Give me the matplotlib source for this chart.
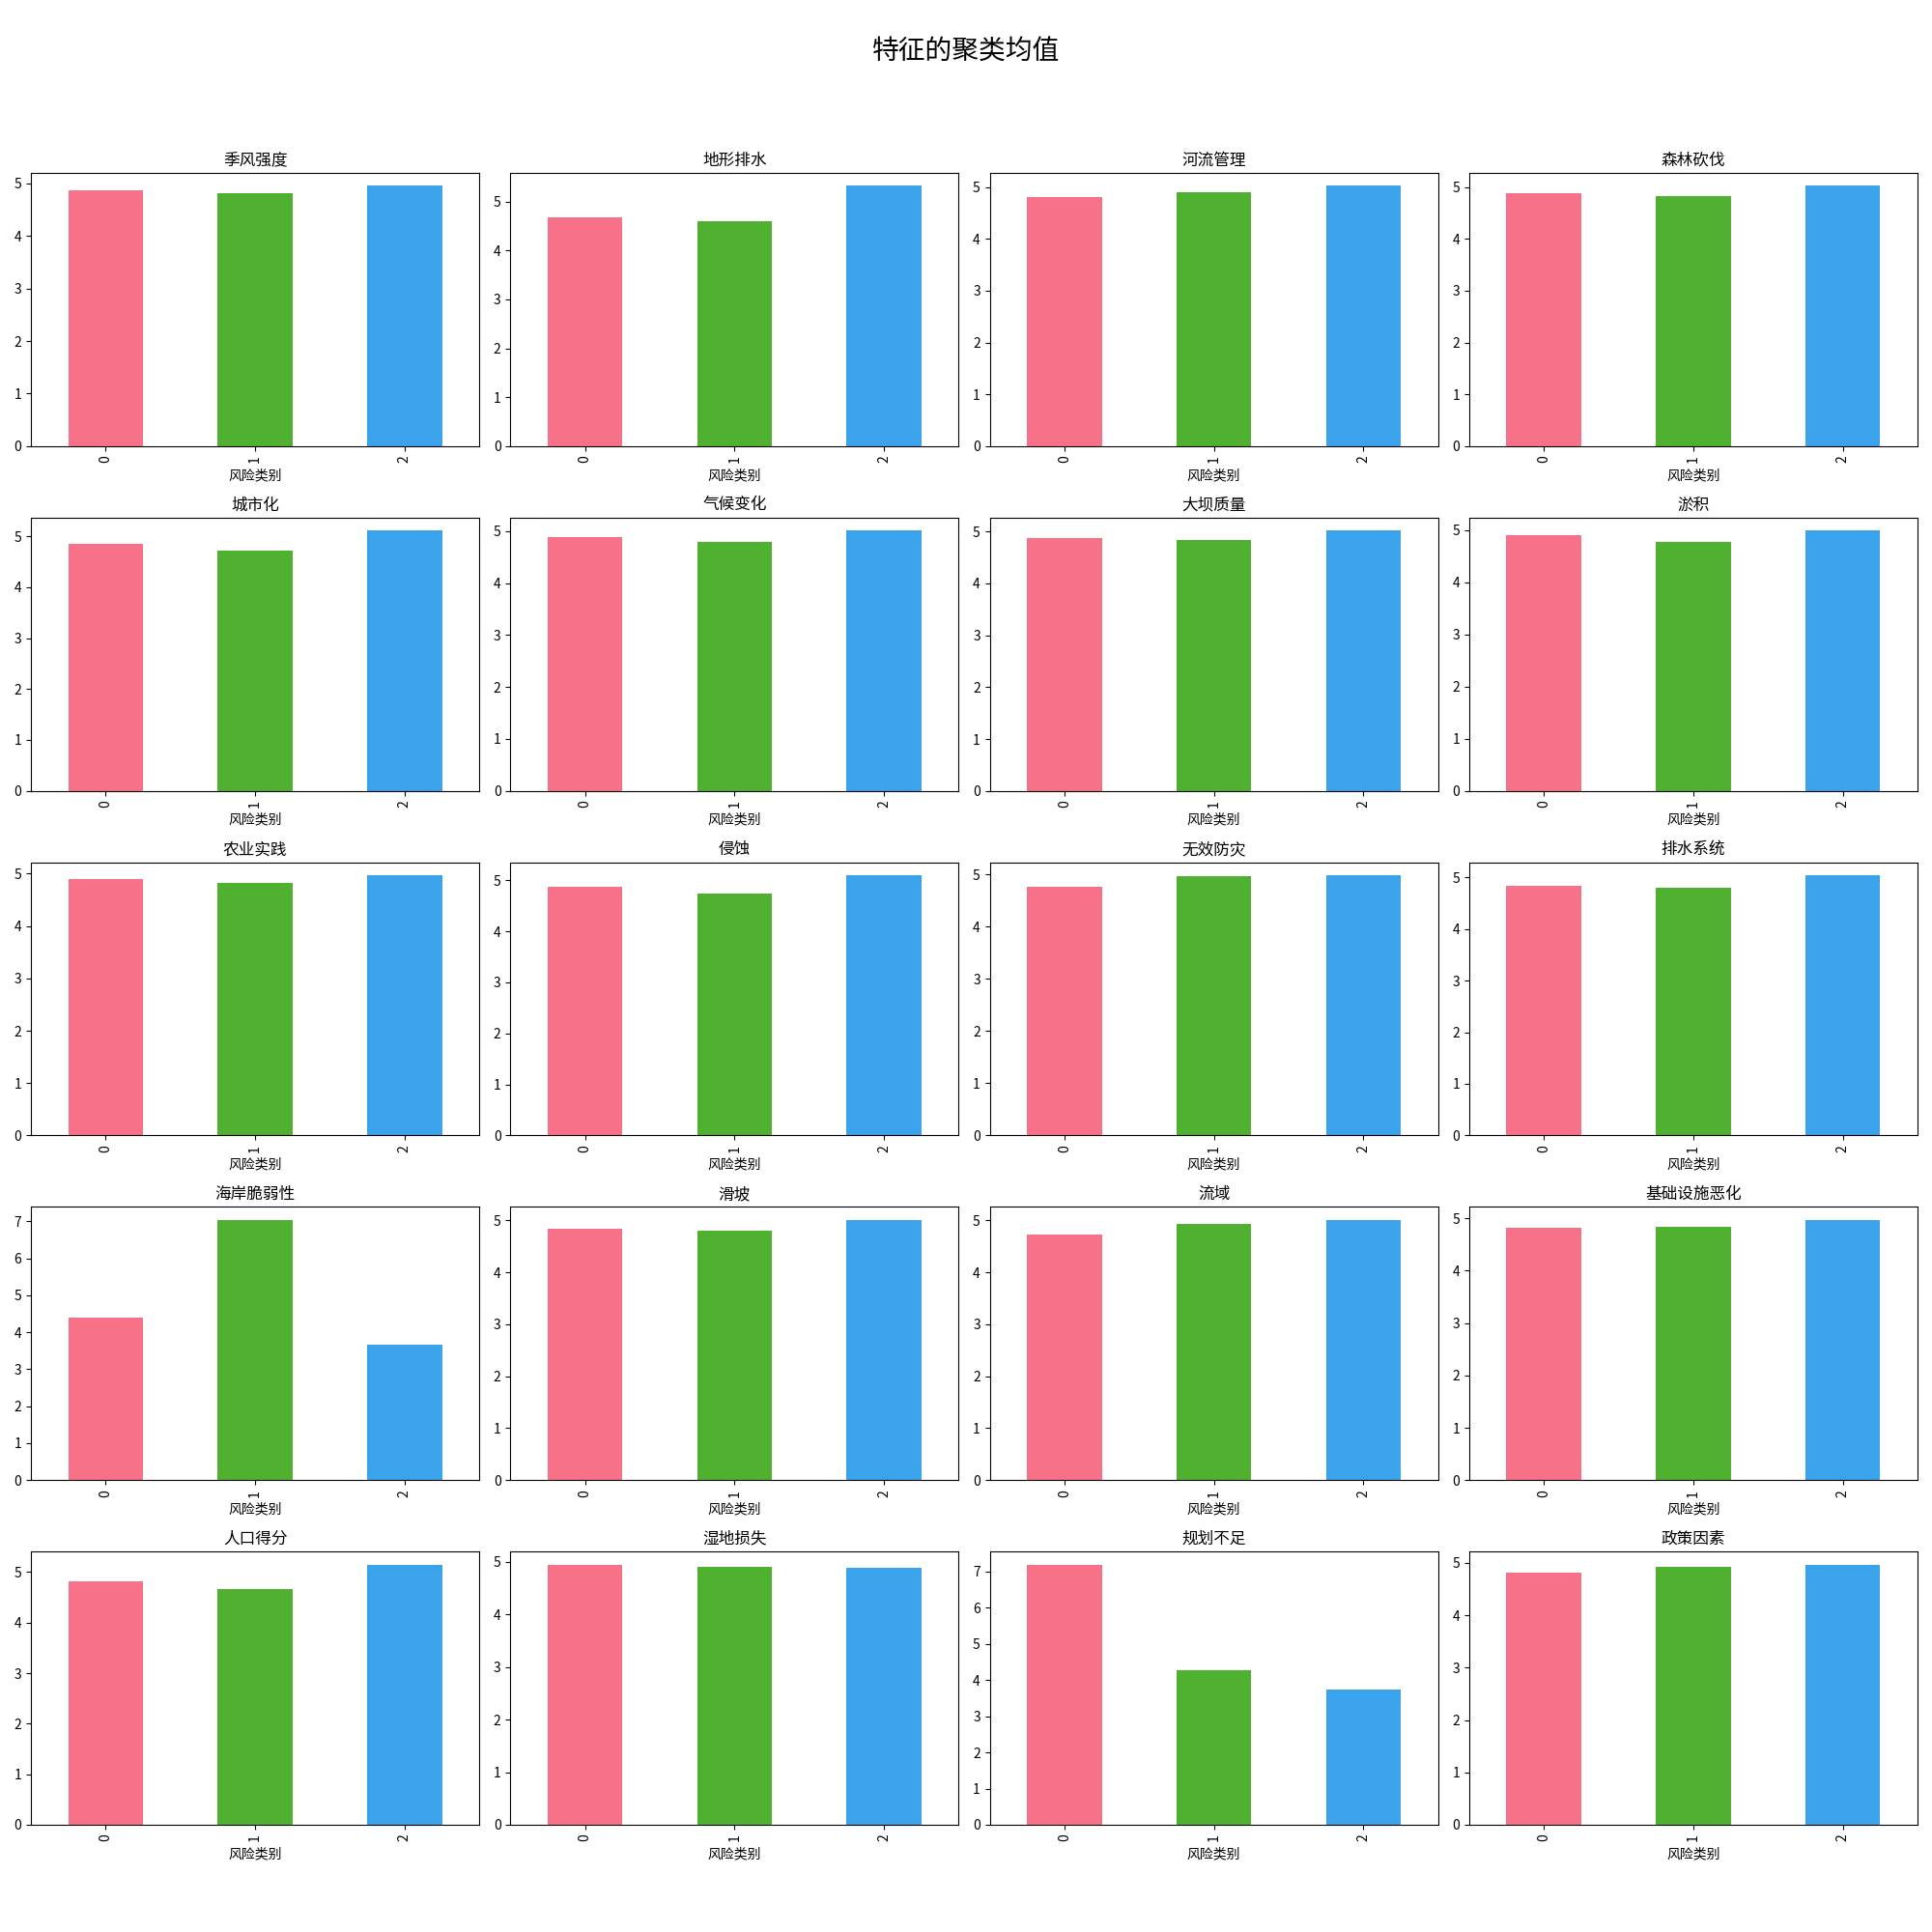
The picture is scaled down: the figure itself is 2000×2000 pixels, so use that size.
import matplotlib
matplotlib.use("Agg")
import matplotlib.pyplot as plt
import numpy as np

plt.rcParams['font.family'] = ['Noto Sans CJK SC', 'DejaVu Sans']
plt.rcParams['axes.unicode_minus'] = False

features = ["季风强度", "地形排水", "河流管理", "森林砍伐",
            "城市化", "气候变化", "大坝质量", "淤积",
            "农业实践", "侵蚀", "无效防灾", "排水系统",
            "海岸脆弱性", "滑坡", "流域", "基础设施恶化",
            "人口得分", "湿地损失", "规划不足", "政策因素"]

categories = ["0", "1", "2"]

cluster0 = [4.86, 4.67, 4.80, 4.88,
            4.85, 4.89, 4.87, 4.91,
            4.90, 4.87, 4.77, 4.84,
            4.39, 4.84, 4.73, 4.82,
            4.81, 4.95, 7.19, 4.82]
cluster1 = [4.82, 4.59, 4.89, 4.83,
            4.71, 4.80, 4.83, 4.78,
            4.82, 4.74, 4.97, 4.80,
            7.04, 4.80, 4.93, 4.84,
            4.66, 4.91, 4.26, 4.93]
cluster2 = [4.95, 5.32, 5.02, 5.02,
            5.11, 5.01, 5.02, 4.99,
            4.97, 5.10, 4.99, 5.04,
            3.66, 5.01, 5.01, 4.97,
            5.15, 4.89, 3.73, 4.97]

colors = ["#f77189", "#50b131", "#3ba3ec"]

fig, axes = plt.subplots(5, 4, figsize=(20, 20), dpi=100)
fig.subplots_adjust(left=0.016, right=0.9925, top=0.9105, bottom=0.0555,
                    wspace=0.069, hspace=0.261)

for i, (ax, name) in enumerate(zip(axes.flat, features)):
    vals = [cluster0[i], cluster1[i], cluster2[i]]
    x = np.arange(len(categories))
    ax.bar(x, vals, width=0.5, color=colors)
    ax.set_xlim(-0.5, 2.5)
    ax.set_xticks(x)
    ax.set_xticklabels(categories, rotation=90)
    ax.set_xlabel("风险类别")
    ax.set_title(name)

fig.suptitle("特征的聚类均值", fontsize=20, y=0.981)
fig.savefig("out.png", dpi=100)
